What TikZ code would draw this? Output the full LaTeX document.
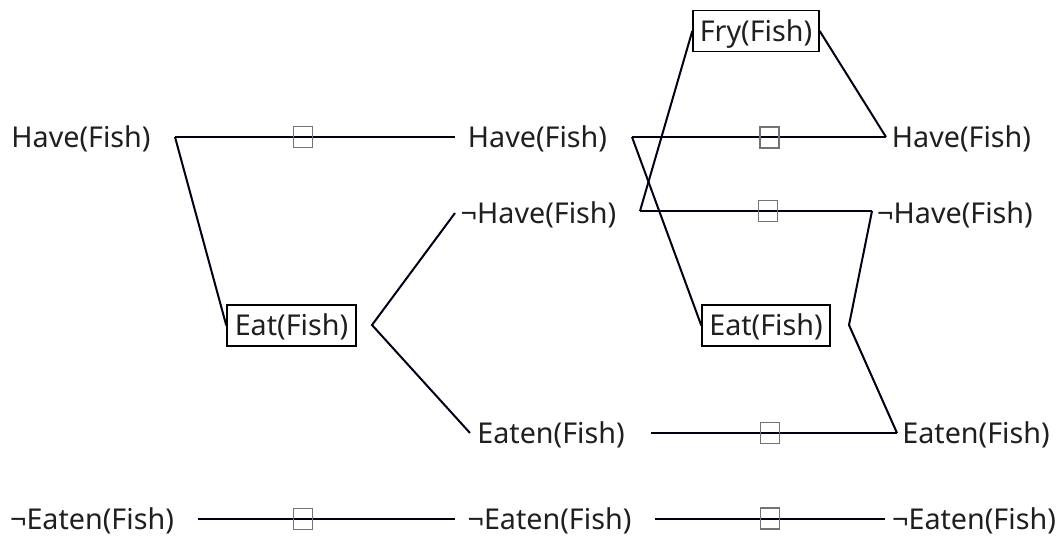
\documentclass[tikz,border=0pt]{standalone}
\usepackage{fontspec}
\setmainfont{Noto Sans}
\begin{document}
\begin{tikzpicture}[x=1pt,y=-1pt,
  lit/.style={inner sep=0pt, text height=20.5pt, text depth=0pt, text=black!88, font=\fontsize{28.7}{30}\selectfont},
  act/.style={lit, draw=black, line width=1.4pt, minimum width=#1, minimum height=41pt, inner xsep=0pt},
  link/.style={line width=2pt, draw=black!92!blue},
  noop/.style={draw=black!55, line width=1.1pt, minimum width=19pt, minimum height=21pt, inner sep=0pt}
]
\useasboundingbox (0,0) rectangle (1058,538);
% layer 0 literals
\node[lit] (h0) at (81,137) {Have(Fish)};
\node[lit] (ne0) at (92,519) {¬Eaten(Fish)};
% layer 1 action
\node[act=129pt] (eat1) at (291.5,325.5) {Eat(Fish)};
% layer 1 literals
\node[lit] (h1) at (537.5,137) {Have(Fish)};
\node[lit] (nh1) at (538.5,213) {¬Have(Fish)};
\node[lit] (e1) at (551,433) {Eaten(Fish)};
\node[lit] (ne1) at (549.5,519) {¬Eaten(Fish)};
% layer 2 actions
\node[act=126pt] (fry) at (756,31) {Fry(Fish)};
\node[act=128pt] (eat2) at (766,325.5) {Eat(Fish)};
% layer 2 literals
\node[lit] (h2) at (961.5,137) {Have(Fish)};
\node[lit] (nh2) at (955,213) {¬Have(Fish)};
\node[lit] (e2) at (976,433) {Eaten(Fish)};
\node[lit] (ne2) at (974,519) {¬Eaten(Fish)};
% junction coordinates
\coordinate (a1) at (175,137);
\coordinate (a2) at (455,137);
\coordinate (c1) at (372,325);
\coordinate (c2) at (455,213);
\coordinate (c3) at (470,433);
\coordinate (b1) at (198,519);
\coordinate (b2) at (455,519);
\coordinate (d1) at (632,137);
\coordinate (d2) at (886,137);
\coordinate (f1) at (640,211);
\coordinate (f2) at (872,211);
\coordinate (g1) at (849,325);
\coordinate (g2) at (897,433);
\coordinate (k1) at (651,433);
\coordinate (m1) at (655,519);
\coordinate (m2) at (885,519);
% links layer 0 -> 1
\draw[link] (a1) -- (a2);
\draw[link] (a1) -- (eat1.west);
\draw[link] (c2) -- (c1) -- (c3);
\draw[link] (b1) -- (b2);
% links layer 1 -> 2
\draw[link] (d1) -- (d2);
\draw[link] (d1) -- (eat2.west);
\draw[link] (f1) -- (f2);
\draw[link] (f1) -- (fry.west);
\draw[link] (fry.east) -- (d2);
\draw[link] (f2) -- (g1) -- (g2);
\draw[link] (k1) -- (g2);
\draw[link] (m1) -- (m2);
% persistence (no-op) boxes
\node[noop] (s1) at (303,137) {};
\node[noop] (s2) at (303,519) {};
\node[noop] (s3) at (769.5,137.5) {};
\node[noop] (s4) at (768,211) {};
\node[noop] (s5) at (770,433) {};
\node[noop] (s6) at (770,518.5) {};
\end{tikzpicture}
\end{document}
